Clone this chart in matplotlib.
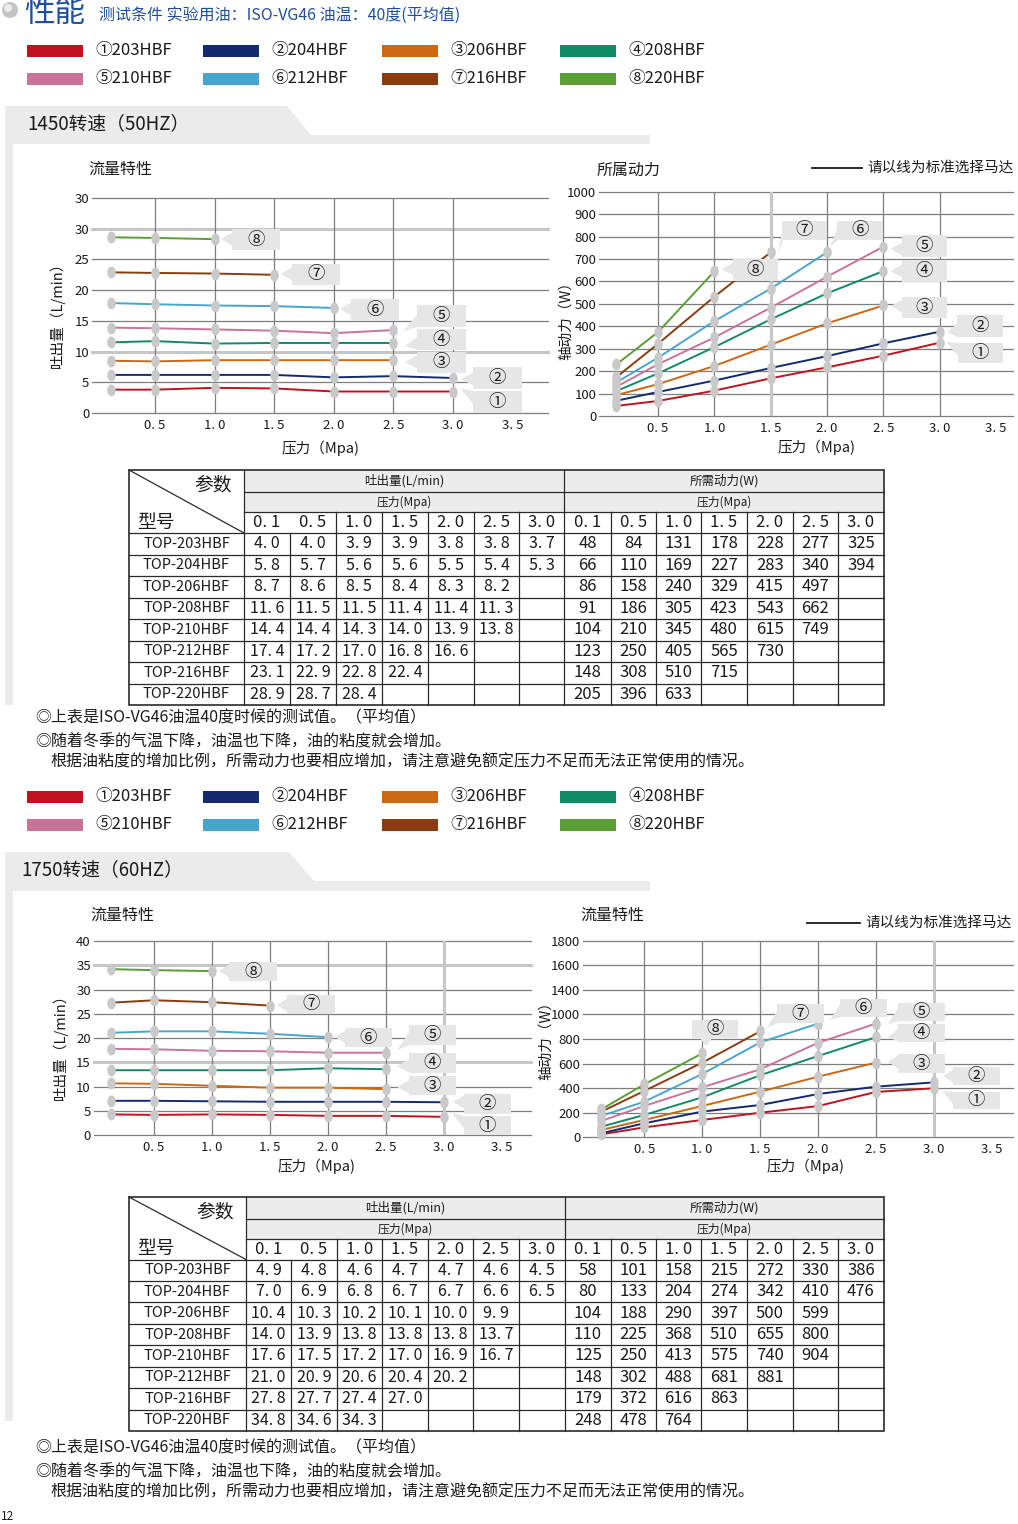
import numpy as np
import matplotlib
matplotlib.use('Agg')
import matplotlib.pyplot as plt
from matplotlib.patches import Rectangle, Polygon, Circle

plt.rcParams['font.family'] = ['Noto Sans CJK SC', 'DejaVu Sans']

# ---------------- data ----------------
MODELS = ['TOP-203HBF', 'TOP-204HBF', 'TOP-206HBF', 'TOP-208HBF',
          'TOP-210HBF', 'TOP-212HBF', 'TOP-216HBF', 'TOP-220HBF']
SERIES_LABELS = ['①203HBF', '②204HBF', '③206HBF', '④208HBF',
                 '⑤210HBF', '⑥212HBF', '⑦216HBF', '⑧220HBF']
CALLOUT_LABELS = ['①', '②', '③', '④', '⑤', '⑥', '⑦', '⑧']
COLORS = ['#c3121f', '#132a6e', '#cc6714', '#118a68',
          '#c9729a', '#48a5cc', '#8a3c10', '#5a9e35']
PRESSURE_LABELS = ['0. 1', '0. 5', '1. 0', '1. 5', '2. 0', '2. 5', '3. 0']
P_PLOT = [0.13, 0.5, 1.0, 1.5, 2.0, 2.5, 3.0]

X_TICKS = [0.5, 1.0, 1.5, 2.0, 2.5, 3.0, 3.5]
X_TICK_LABELS = ['0. 5', '1. 0', '1. 5', '2. 0', '2. 5', '3. 0', '3. 5']

FLOW50_YTICKS = [0, 5, 10, 15, 20, 25, 30, 35]
FLOW50_YLABELS = ['0', '5', '10', '15', '20', '25', '30', '30']
POWER50_YTICKS = [0, 100, 200, 300, 400, 500, 600, 700, 800, 900, 1000]
POWER50_YLABELS = ['0', '100', '200', '300', '400', '500', '600', '700', '800', '900', '1000']
FLOW60_YTICKS = [0, 5, 10, 15, 20, 25, 30, 35, 40]
FLOW60_YLABELS = ['0', '5', '10', '15', '20', '25', '30', '35', '40']
POWER60_YTICKS = [0, 200, 400, 600, 800, 1000, 1200, 1400, 1600]
POWER60_YLABELS = ['0', '200', '400', '600', '800', '1000', '1400', '1600', '1800']

# values as drawn in the charts
FLOW50_CHART = [
    [3.8, 3.8, 4.1, 4.0, 3.5, 3.5, 3.5],
    [6.2, 6.2, 6.2, 6.2, 5.8, 6.0, 5.7],
    [8.5, 8.4, 8.6, 8.6, 8.6, 8.6],
    [11.5, 11.7, 11.3, 11.4, 11.4, 11.4],
    [13.9, 13.8, 13.6, 13.4, 13.0, 13.5],
    [17.9, 17.7, 17.5, 17.4, 17.1],
    [22.9, 22.8, 22.7, 22.5],
    [28.6, 28.5, 28.3],
]
POWER50_CHART = [
    [45, 67, 113, 168, 217, 269, 327],
    [68, 107, 158, 214, 267, 324, 376],
    [93, 142, 223, 318, 413, 493],
    [111, 190, 307, 431, 547, 646],
    [130, 231, 350, 483, 621, 755],
    [150, 260, 423, 568, 730],
    [173, 322, 532, 730],
    [230, 374, 645],
]
FLOW60_CHART = [
    [4.3, 4.2, 4.3, 4.2, 4.0, 4.0, 3.8],
    [7.1, 7.1, 7.0, 6.9, 6.9, 6.9, 6.8],
    [10.7, 10.6, 10.2, 9.8, 9.8, 9.5],
    [13.4, 13.4, 13.4, 13.4, 13.8, 13.6],
    [17.8, 17.7, 17.4, 17.3, 17.0, 17.0],
    [21.1, 21.4, 21.4, 20.9, 20.2],
    [27.3, 27.8, 27.4, 26.7],
    [34.2, 34.0, 33.8],
]
POWER60_CHART = [
    [24, 81, 141, 200, 254, 369, 399],
    [33, 114, 209, 263, 352, 412, 447],
    [60, 141, 255, 371, 493, 608],
    [87, 182, 325, 505, 661, 815],
    [133, 255, 407, 553, 769, 925],
    [174, 290, 515, 772, 925],
    [209, 377, 607, 862],
    [228, 431, 683],
]

# table values
TABLE_FLOW_50 = [
    [4.0, 4.0, 3.9, 3.9, 3.8, 3.8, 3.7],
    [5.8, 5.7, 5.6, 5.6, 5.5, 5.4, 5.3],
    [8.7, 8.6, 8.5, 8.4, 8.3, 8.2],
    [11.6, 11.5, 11.5, 11.4, 11.4, 11.3],
    [14.4, 14.4, 14.3, 14.0, 13.9, 13.8],
    [17.4, 17.2, 17.0, 16.8, 16.6],
    [23.1, 22.9, 22.8, 22.4],
    [28.9, 28.7, 28.4],
]
TABLE_POWER_50 = [
    [48, 84, 131, 178, 228, 277, 325],
    [66, 110, 169, 227, 283, 340, 394],
    [86, 158, 240, 329, 415, 497],
    [91, 186, 305, 423, 543, 662],
    [104, 210, 345, 480, 615, 749],
    [123, 250, 405, 565, 730],
    [148, 308, 510, 715],
    [205, 396, 633],
]
TABLE_FLOW_60 = [
    [4.9, 4.8, 4.6, 4.7, 4.7, 4.6, 4.5],
    [7.0, 6.9, 6.8, 6.7, 6.7, 6.6, 6.5],
    [10.4, 10.3, 10.2, 10.1, 10.0, 9.9],
    [14.0, 13.9, 13.8, 13.8, 13.8, 13.7],
    [17.6, 17.5, 17.2, 17.0, 16.9, 16.7],
    [21.0, 20.9, 20.6, 20.4, 20.2],
    [27.8, 27.7, 27.4, 27.0],
    [34.8, 34.6, 34.3],
]
TABLE_POWER_60 = [
    [58, 101, 158, 215, 272, 330, 386],
    [80, 133, 204, 274, 342, 410, 476],
    [104, 188, 290, 397, 500, 599],
    [110, 225, 368, 510, 655, 800],
    [125, 250, 413, 575, 740, 904],
    [148, 302, 488, 681, 881],
    [179, 372, 616, 863],
    [248, 478, 764],
]

NOTE_1 = '◎上表是ISO-VG46油温40度时候的测试值。（平均值）'
NOTE_2 = '◎随着冬季的气温下降，油温也下降，油的粘度就会增加。'
NOTE_3 = '根据油粘度的增加比例，所需动力也要相应增加，请注意避免额定压力不足而无法正常使用的情况。'

# ---------------- figure ----------------
W, H = 1018, 1524
fig = plt.figure(figsize=(W / 100, H / 100), dpi=100)
fig.patch.set_facecolor('white')

bg = fig.add_axes([0, 0, 1, 1])
bg.set_xlim(0, W); bg.set_ylim(H, 0); bg.axis('off'); bg.set_zorder(0)
ov = fig.add_axes([0, 0, 1, 1])
ov.set_xlim(0, W); ov.set_ylim(H, 0); ov.axis('off'); ov.set_zorder(10)
ov.patch.set_alpha(0)

BAND = '#ebebeb'
TXT = '#1a1a1a'
BLUE = '#1f4e9c'

# header
bg.add_patch(Circle((10, 10), 8, fc='#c4c4c4', ec='none'))
bg.add_patch(Circle((8, 8), 4, fc='#ececec', ec='none'))
bg.text(24, 13, '性能', fontsize=22, color=BLUE, va='center', ha='left')
bg.text(99, 16, '测试条件 实验用油：ISO-VG46 油温：40度(平均值)', fontsize=11.5,
        color=BLUE, va='center', ha='left')


def legend(rows_y):
    rect_x = [27, 203, 382, 560]
    text_x = [95, 271, 450, 628]
    for i, lab in enumerate(SERIES_LABELS):
        r, c = divmod(i, 4)
        y = rows_y[r]
        bg.add_patch(Rectangle((rect_x[c], y - 6), 56, 12, fc=COLORS[i], ec='none'))
        bg.text(text_x[c], y, lab, fontsize=12, color=TXT, va='center', ha='left')


def section_band(top, tab_r, tab_r2, band_bot, strip_bot, title, title_x):
    yb = top + 29
    pts = [(5, top), (tab_r, top), (tab_r2, yb), (650, yb), (650, band_bot),
           (13, band_bot), (13, strip_bot), (5, strip_bot)]
    bg.add_patch(Polygon(pts, closed=True, fc=BAND, ec='none'))
    bg.text(title_x, top + 18, title, fontsize=13.5, color=TXT, va='center', ha='left')


legend([51, 79])
section_band(106, 287, 311, 144, 705, '1450转速（50HZ）', 27)
legend([797, 825])
section_band(852, 289, 314, 891, 1421, '1750转速（60HZ）', 21)

ELL = [(0.72 * np.cos(a), np.sin(a)) for a in np.linspace(0, 2 * np.pi, 40)]
DARK_GRID = '#7d7d7d'
LIGHT_GRID = '#c6c6c6'


def chart(box, xlim, ylim, yticks, ylabels, series, light_h=(), light_v=()):
    left, right, top, bottom = box
    ax = fig.add_axes([left / W, 1 - bottom / H, (right - left) / W, (bottom - top) / H])
    ax.set_zorder(5)
    ax.patch.set_alpha(0)
    ax.set_xlim(xlim); ax.set_ylim(ylim)
    for s in ax.spines.values():
        s.set_visible(False)
    ax.set_xticks(X_TICKS)
    ax.set_xticklabels(X_TICK_LABELS)
    ax.set_yticks(yticks)
    ax.set_yticklabels(ylabels)
    ax.tick_params(length=0, labelsize=9.5, colors=TXT)
    ax.tick_params(axis='x', pad=4)
    ax.tick_params(axis='y', pad=2)
    for yv in yticks:
        if yv in light_h:
            ax.axhline(yv, color=LIGHT_GRID, lw=2.2, zorder=1, clip_on=False)
        else:
            ax.axhline(yv, color=DARK_GRID, lw=0.9, zorder=1, clip_on=False)
    for xv in X_TICKS[:-1]:
        if xv in light_v:
            ax.axvline(xv, color=LIGHT_GRID, lw=2.2, zorder=1)
        else:
            ax.axvline(xv, color=DARK_GRID, lw=0.9, zorder=1)
    for i, vals in enumerate(series):
        ax.plot(P_PLOT[:len(vals)], vals, color=COLORS[i], lw=1.4, zorder=3,
                clip_on=False, solid_capstyle='butt')
    for i, vals in enumerate(series):
        ax.plot(P_PLOT[:len(vals)], vals, ls='none', marker=ELL, ms=8.5,
                mfc='#c9c9c9', mec='none', zorder=4, clip_on=False)
    return ax


chart((92, 548, 198, 413), (-0.03, 3.80), (0, 35), FLOW50_YTICKS, FLOW50_YLABELS,
      FLOW50_CHART, light_h=(30, 10))
chart((599, 1013, 191.7, 416), (-0.024, 3.65), (0, 1000), POWER50_YTICKS, POWER50_YLABELS,
      POWER50_CHART, light_v=(1.5,))
chart((93.6, 531, 941, 1135.3), (-0.02, 3.75), (0, 40), FLOW60_YTICKS, FLOW60_YLABELS,
      FLOW60_CHART, light_h=(35, 15), light_v=(3.0,))
chart((583, 1013, 940.7, 1137.3), (-0.029, 3.684), (0, 1600), POWER60_YTICKS, POWER60_YLABELS,
      POWER60_CHART, light_v=(3.0,))

# chart titles and axis labels
bg.text(88, 169, '流量特性', fontsize=11.5, color=TXT, va='center', ha='left')
bg.text(597, 170, '所属动力', fontsize=11.5, color=TXT, va='center', ha='left')
bg.text(90, 915, '流量特性', fontsize=11.5, color=TXT, va='center', ha='left')
bg.text(580, 915, '流量特性', fontsize=11.5, color=TXT, va='center', ha='left')

bg.plot([812, 862], [168, 168], color=TXT, lw=1.3)
bg.text(867, 168, '请以线为标准选择马达', fontsize=10.5, color=TXT, va='center', ha='left')
bg.plot([807, 860], [923, 923], color=TXT, lw=1.3)
bg.text(865, 923, '请以线为标准选择马达', fontsize=10.5, color=TXT, va='center', ha='left')

bg.text(57, 311, '吐出量（L/min）', fontsize=10.5, color=TXT, va='center', ha='center', rotation=90)
bg.text(566, 317, '轴动力（W）', fontsize=10.5, color=TXT, va='center', ha='center', rotation=90)
bg.text(60, 1043, '吐出量（L/min）', fontsize=10.5, color=TXT, va='center', ha='center', rotation=90)
bg.text(546, 1037, '轴动力（W）', fontsize=10.5, color=TXT, va='center', ha='center', rotation=90)

for (x, y) in [(321, 448), (817, 447), (317, 1166), (806, 1166)]:
    bg.text(x, y, '压力（Mpa)', fontsize=10.5, color=TXT, va='center', ha='center')


# callouts
def callout(box, tip, label):
    x0, y0, x1, y1 = box
    if tip[0] < x0 - 2:
        yc = min(max(tip[1], y0 + 7), y1 - 7)
        base = [(x0 + 1, yc + 7), (x0 + 1, yc - 7)]
    else:
        xc = min(max(tip[0], x0 + 7), x1 - 7)
        yy = y1 - 1 if tip[1] > y1 else y0 + 1
        base = [(xc - 7, yy), (xc + 7, yy)]
    ov.add_patch(Polygon([tip] + base, closed=True, fc='#e6e6e6', ec='none'))
    ov.add_patch(Rectangle((x0, y0), x1 - x0, y1 - y0, fc='#e6e6e6', ec='none'))
    ov.text((x0 + x1) / 2, (y0 + y1) / 2, label, fontsize=12.5, color=TXT,
            va='center', ha='center')


CALLOUTS_TL = [((473, 391, 522, 413), (460, 388)), ((473, 367, 522, 389), (461, 379)),
               ((417, 352, 466, 373), (405, 362)), ((417, 329, 466, 350), (405, 346)),
               ((417, 305, 466, 327), (404, 331)), ((351, 299, 399, 321), (340, 309)),
               ((292, 264, 340, 285), (281, 274)), ((232, 229, 280, 250), (221, 239))]
CALLOUTS_TR = [((958, 343, 1003, 363), (946, 342)), ((957, 315, 1003, 337), (947, 332)),
               ((902, 297, 947, 318), (891, 306)), ((902, 260, 947, 282), (891, 271)),
               ((902, 235, 947, 257), (891, 249)), ((837, 221, 883, 240), (830, 247)),
               ((782, 221, 827, 240), (778, 254)), ((733, 259, 778, 281), (722, 269))]
CALLOUTS_BL = [((464, 1116, 511, 1135), (452, 1113)), ((464, 1094, 511, 1114), (453, 1102)),
               ((409, 1076, 456, 1095), (397, 1087)), ((409, 1053, 456, 1073), (397, 1066)),
               ((409, 1025, 456, 1045), (397, 1050)), ((345, 1028, 392, 1047), (335, 1037)),
               ((287, 995, 335, 1014), (277, 1005)), ((229, 962, 277, 981), (219, 971))]
CALLOUTS_BR = [((953, 1092, 1000, 1109), (943, 1091)), ((953, 1067, 1000, 1085), (943, 1076)),
               ((898, 1054, 945, 1073), (888, 1062)), ((898, 1024, 945, 1042), (888, 1037)),
               ((898, 1003, 945, 1021), (888, 1024)), ((840, 999, 887, 1017), (830, 1020)),
               ((777, 1004, 824, 1023), (767, 1028)), ((692, 1020, 738, 1038), (706, 1046))]

for group in (CALLOUTS_TL, CALLOUTS_TR, CALLOUTS_BL, CALLOUTS_BR):
    for i, (box, tip) in enumerate(group):
        callout(box, tip, CALLOUT_LABELS[i])


# tables
def fmt_flow(v):
    return ('%.1f' % v).replace('.', '. ')


def table(xs, ys, flow, power):
    top, y1, y2, y3, bot = ys
    n = len(MODELS)
    rh = (bot - y3) / n
    lc = '#2a2a2a'
    bg.add_patch(Rectangle((xs[1], top), xs[-1] - xs[1], y2 - top, fc='#ececec', ec='none'))
    bg.add_patch(Rectangle((xs[0], top), xs[-1] - xs[0], bot - top, fc='none', ec=lc, lw=1.2))
    bg.plot([xs[0], xs[1]], [top, y3], color=lc, lw=0.9)
    bg.plot([xs[1], xs[1]], [top, bot], color=lc, lw=0.9)
    bg.plot([xs[8], xs[8]], [top, bot], color=lc, lw=0.9)
    bg.plot([xs[1], xs[-1]], [y1, y1], color=lc, lw=0.9)
    bg.plot([xs[1], xs[-1]], [y2, y2], color=lc, lw=0.9)
    bg.plot([xs[0], xs[-1]], [y3, y3], color=lc, lw=0.9)
    for i in range(1, n):
        yy = y3 + i * rh
        bg.plot([xs[0], xs[-1]], [yy, yy], color=lc, lw=0.9)
    for j in range(2, 15):
        if j == 8:
            continue
        ystart = y3 if j == 2 else y2
        bg.plot([xs[j], xs[j]], [ystart, bot], color=lc, lw=0.9)
    bg.text(xs[1] - 12, (top + y1) / 2 + 4, '参数', fontsize=13.5, color=TXT, ha='right', va='center')
    bg.text(xs[0] + 8, y3 - 11, '型号', fontsize=13.5, color=TXT, ha='left', va='center')
    bg.text((xs[1] + xs[8]) / 2, (top + y1) / 2, '吐出量(L/min)', fontsize=9, color=TXT,
            ha='center', va='center')
    bg.text((xs[8] + xs[-1]) / 2, (top + y1) / 2, '所需动力(W)', fontsize=9, color=TXT,
            ha='center', va='center')
    for a, b in [(xs[1], xs[8]), (xs[8], xs[-1])]:
        bg.text((a + b) / 2, (y1 + y2) / 2, '压力(Mpa)', fontsize=8.5, color=TXT,
                ha='center', va='center')
    for k, lab in enumerate(PRESSURE_LABELS):
        for off in (1, 8):
            bg.text((xs[off + k] + xs[off + k + 1]) / 2, (y2 + y3) / 2, lab, fontsize=12,
                    color=TXT, ha='center', va='center')
    for r, m in enumerate(MODELS):
        yc = y3 + (r + 0.5) * rh
        bg.text((xs[0] + xs[1]) / 2, yc, m, fontsize=10.5, color=TXT, ha='center', va='center')
        for k, v in enumerate(flow[r]):
            bg.text((xs[1 + k] + xs[2 + k]) / 2, yc, fmt_flow(v), fontsize=11.5, color=TXT,
                    ha='center', va='center')
        for k, v in enumerate(power[r]):
            bg.text((xs[8 + k] + xs[9 + k]) / 2, yc, str(v), fontsize=12, color=TXT,
                    ha='center', va='center')


table([129, 244, 290, 336, 382, 428, 474, 519, 564, 611, 656, 701, 747, 793, 838, 884],
      (470, 492, 512, 533, 705), TABLE_FLOW_50, TABLE_POWER_50)
table([129, 246, 291, 337, 382, 428, 473, 519, 565, 611, 656, 701, 747, 793, 838, 884],
      (1197, 1219, 1239, 1259.5, 1431), TABLE_FLOW_60, TABLE_POWER_60)

# notes
for base in (718, 1448):
    bg.text(35, base, NOTE_1, fontsize=11.5, color=TXT, va='center', ha='left')
    bg.text(35, base + 24, NOTE_2, fontsize=11.5, color=TXT, va='center', ha='left')
    bg.text(50, base + 44, NOTE_3, fontsize=11.5, color=TXT, va='center', ha='left')

bg.text(1, 1516, '12', fontsize=8.5, color=TXT, va='center', ha='left')

fig.savefig('out.png', dpi=100, facecolor='white')
